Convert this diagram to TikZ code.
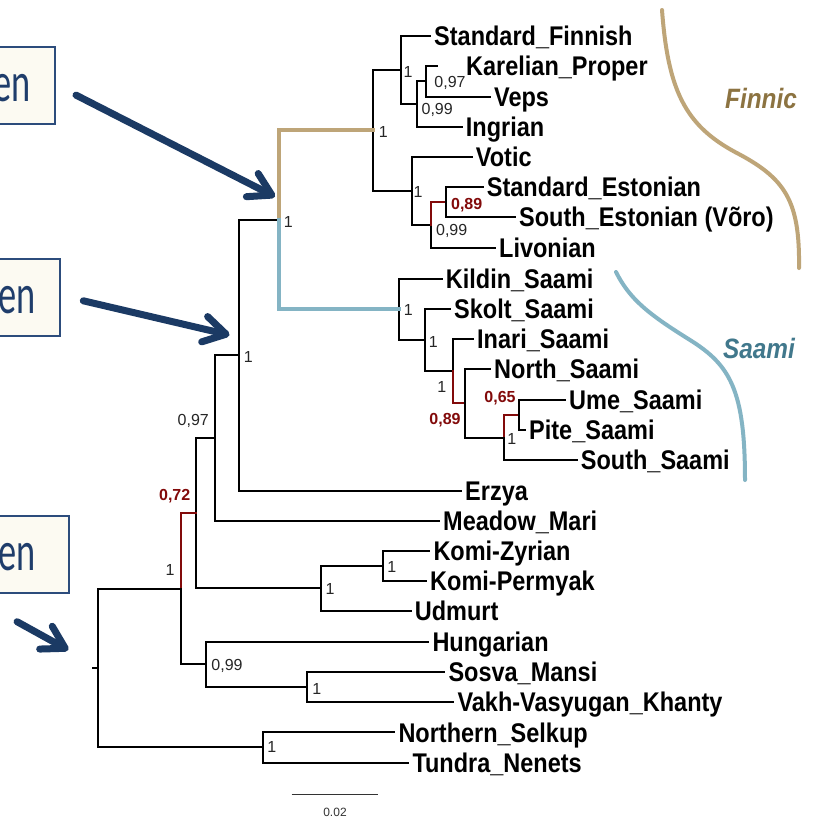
\documentclass[tikz,border=0pt]{standalone}
\usepackage{fontspec}
\usetikzlibrary{arrows.meta}
\newfontfamily\taxfont{Liberation Sans}[FakeStretch=0.87]
\newfontfamily\numfont{Liberation Sans}
\newfontfamily\slidefont{Carlito}[FakeStretch=0.65]
\definecolor{finnictan}{HTML}{BEA578}
\definecolor{finnictext}{HTML}{8C7341}
\definecolor{saamiblue}{HTML}{84B4C4}
\definecolor{saamitext}{HTML}{41788C}
\definecolor{lowred}{HTML}{820A0A}
\definecolor{boxblue}{HTML}{2C4C7C}
\definecolor{boxcream}{HTML}{FCFAF2}
\definecolor{slidetext}{HTML}{1F3D6B}
\definecolor{arrowblue}{HTML}{1B3A64}
\tikzstyle{taxon} = [anchor=west, inner xsep=4pt, inner ysep=0pt, text height=19.5pt, text depth=0pt, font=\taxfont\bfseries\fontsize{27}{27}\selectfont]
\tikzstyle{support} = [inner sep=0pt, text height=11.5pt, text depth=0pt, text=black!85, font=\numfont\fontsize{16}{16}\selectfont]
\tikzstyle{weak} = [support, text=lowred, font=\numfont\bfseries\fontsize{16}{16}\selectfont]
\tikzstyle{cladelabel} = [inner sep=0pt, font=\taxfont\bfseries\itshape\fontsize{28}{28}\selectfont]
\tikzstyle{branch} = [line width=2pt, line cap=rect]
\tikzstyle{weakbranch} = [branch, draw=lowred]
\tikzstyle{finnicbranch} = [line width=4pt, line cap=rect, draw=finnictan]
\tikzstyle{saamibranch} = [line width=4pt, line cap=rect, draw=saamiblue]
\tikzstyle{bracket} = [line width=4pt, line cap=round]
\tikzstyle{slidebox} = [anchor=north east, draw=boxblue, fill=boxcream, line width=2pt, minimum height=77pt, inner xsep=24pt, inner ysep=0pt, text height=32pt, text depth=0pt, text=slidetext, font=\slidefont\fontsize{56}{56}\selectfont]
\tikzstyle{callout} = [line width=7pt, draw=arrowblue, line cap=round, -{Straight Barb[length=22pt, width=26pt, line join=round, line cap=round]}]
\tikzstyle{scalebar} = [line width=1.3pt, draw=black!80]
\begin{document}
\begin{tikzpicture}[x=1pt,y=-1pt]
    \useasboundingbox (0,0) rectangle (813,820);
    \fill[white] (0,0) rectangle (813,820);

    \coordinate (karveps) at (425.7,81.25);
    \coordinate (karvepsing) at (416.7,103.9);
    \coordinate (finnorth) at (400.7,69.9);
    \coordinate (estpair) at (445.7,202);
    \coordinate (estliv) at (431,224.75);
    \coordinate (finsouth) at (411.7,190.9);
    \coordinate (finnic) at (373.3,130.4);
    \coordinate (umepite) at (519,415);
    \coordinate (southgrp) at (504.3,437.5);
    \coordinate (northgrp) at (465,403);
    \coordinate (inarigrp) at (452.7,371);
    \coordinate (skoltgrp) at (425,339.75);
    \coordinate (saami) at (399.3,309.1);
    \coordinate (finsaami) at (278.5,219.75);
    \coordinate (volgfin) at (239.3,355.1);
    \coordinate (volgmari) at (215,437.8);
    \coordinate (komi) at (382.7,565.5);
    \coordinate (permic) at (321,588.25);
    \coordinate (permvolga) at (195.7,513);
    \coordinate (obugric) at (307.3,686.7);
    \coordinate (ugric) at (206,664.1);
    \coordinate (finnougric) at (180.7,588.5);
    \coordinate (samoyed) at (262.7,747.4);
    \coordinate (uralic) at (98.3,668);
    \coordinate (rootstub) at (93.3,668);

    \node[taxon] (finnish) at (430,36) {Standard\_Finnish};
    \node[taxon] (karelian) at (462,66) {Karelian\_Proper};
    \node[taxon] (veps) at (490,96.5) {Veps};
    \node[taxon] (ingrian) at (461.7,126.5) {Ingrian};
    \node[taxon] (votic) at (471.7,157) {Votic};
    \node[taxon] (stdest) at (482.7,187) {Standard\_Estonian};
    \node[taxon] (southest) at (515,217) {South\_Estonian (Võro)};
    \node[taxon] (livonian) at (495,247.5) {Livonian};
    \node[taxon] (kildin) at (441.7,278.5) {Kildin\_Saami};
    \node[taxon] (skolt) at (450,308.5) {Skolt\_Saami};
    \node[taxon] (inari) at (473,339) {Inari\_Saami};
    \node[taxon] (north) at (490,368.5) {North\_Saami};
    \node[taxon] (ume) at (565,400) {Ume\_Saami};
    \node[taxon] (pite) at (525,430) {Pite\_Saami};
    \node[taxon] (southsaami) at (576.7,460) {South\_Saami};
    \node[taxon] (erzya) at (461,490.5) {Erzya};
    \node[taxon] (mari) at (439,520.5) {Meadow\_Mari};
    \node[taxon] (zyrian) at (429.3,550.5) {Komi-Zyrian};
    \node[taxon] (permyak) at (426,580.5) {Komi-Permyak};
    \node[taxon] (udmurt) at (410.7,611) {Udmurt};
    \node[taxon] (hungarian) at (428.3,641.5) {Hungarian};
    \node[taxon] (mansi) at (444.3,671.7) {Sosva\_Mansi};
    \node[taxon] (khanty) at (453.3,701.7) {Vakh-Vasyugan\_Khanty};
    \node[taxon] (selkup) at (394.3,732.3) {Northern\_Selkup};
    \node[taxon] (nenets) at (408.3,762.5) {Tundra\_Nenets};

    \draw[branch] (finnorth) |- (finnish.west) (finnorth) |- (karvepsing);
    \draw[branch] (karvepsing) |- (karveps) (karvepsing) |- (ingrian.west);
    \draw[branch] (karveps) |- ([xshift=-25pt]karelian.west) (karveps) |- (veps.west);
    \draw[branch] (finnic) |- (finnorth) (finnic) |- (finsouth);
    \draw[branch] (finsouth) |- (votic.west) (finsouth) |- (estliv);
    \draw[branch] (estliv) |- (livonian.west);
    \draw[weakbranch] (estliv) |- (estpair);
    \draw[branch] (estpair) |- (stdest.west) (estpair) |- (southest.west);
    \draw[branch] (saami) |- (kildin.west) (saami) |- (skoltgrp);
    \draw[branch] (skoltgrp) |- (skolt.west) (skoltgrp) |- (inarigrp);
    \draw[branch] (inarigrp) |- (inari.west);
    \draw[weakbranch] (inarigrp) |- (northgrp);
    \draw[branch] (northgrp) |- (north.west) (northgrp) |- (southgrp);
    \draw[weakbranch] (southgrp) |- (umepite);
    \draw[branch] (southgrp) |- (southsaami.west);
    \draw[branch] (umepite) |- (ume.west) (umepite) |- (pite.west);
    \draw[branch] (volgfin) |- (finsaami) (volgfin) |- (erzya.west);
    \draw[finnicbranch] (finsaami) |- (finnic);
    \draw[saamibranch] (finsaami) |- (saami);
    \draw[branch] (volgmari) |- (volgfin) (volgmari) |- (mari.west);
    \draw[branch] (permvolga) |- (volgmari) (permvolga) |- (permic);
    \draw[branch] (permic) |- (komi) (permic) |- (udmurt.west);
    \draw[branch] (komi) |- (zyrian.west) (komi) |- (permyak.west);
    \draw[weakbranch] (finnougric) |- (permvolga);
    \draw[branch] (finnougric) |- (ugric);
    \draw[branch] (ugric) |- (hungarian.west) (ugric) |- (obugric);
    \draw[branch] (obugric) |- (mansi.west) (obugric) |- (khanty.west);
    \draw[branch] (uralic) |- (finnougric) (uralic) |- (samoyed) (uralic) -- (rootstub);
    \draw[branch] (samoyed) |- (selkup.west) (samoyed) |- (nenets.west);

    \node[support] at (408,71.7) {1};
    \node[support] at (450,81.7) {0,97};
    \node[support] at (437.2,108.3) {0,99};
    \node[support] at (383.3,131.7) {1};
    \node[support] at (418,191.7) {1};
    \node[weak] at (466.7,203.3) {0,89};
    \node[support] at (451.7,230) {0,99};
    \node[support] at (288.3,221.7) {1};
    \node[support] at (408.3,310) {1};
    \node[support] at (433.3,341.7) {1};
    \node[support] at (441.7,386.7) {1};
    \node[weak] at (445,418.3) {0,89};
    \node[weak] at (500,396.7) {0,65};
    \node[support] at (511.7,438.3) {1};
    \node[support] at (248.3,356.7) {1};
    \node[support] at (193.3,419.3) {0,97};
    \node[weak] at (174.7,495) {0,72};
    \node[support] at (170,570) {1};
    \node[support] at (330,588.3) {1};
    \node[support] at (391.7,566.7) {1};
    \node[support] at (227,665) {0,99};
    \node[support] at (316.7,688.3) {1};
    \node[support] at (271.7,746.7) {1};

    \coordinate (scaleleft) at (291.7,794.3);
    \coordinate (scaleright) at (378.3,794.3);
    \draw[scalebar] (scaleleft) -- node[inner sep=0pt, yshift=-17.4pt, text height=8.6pt, text depth=0pt, text=black!80, font=\numfont\fontsize{12}{12}\selectfont] {0.02} (scaleright);

    \draw[bracket, draw=finnictan] (662,10) .. controls (668,90) and (685,125) .. (735,152) .. controls (785,178) and (800,200) .. (799,268);
    \draw[bracket, draw=saamiblue] (616,272) .. controls (630,300) and (650,315) .. (690,340) .. controls (730,365) and (745,390) .. (745,480);
    \node[cladelabel, text=finnictext] (finniclabel) at (761,98) {Finnic};
    \node[cladelabel, text=saamitext] (saamilabel) at (759,348) {Saami};

    \node[slidebox] (boxfinsaami) at (56,46) {en};
    \node[slidebox, inner xsep=24.3pt] (boxvolga) at (61,258.3) {en};
    \node[slidebox, inner xsep=33.3pt] (boxuralic) at (70,514.7) {en};
    \coordinate (pointfinsaami) at (275,196.7);
    \coordinate (pointvolgfin) at (229.5,335);
    \coordinate (pointuralic) at (68.3,650);
    \draw[callout] ([shift={(20,9.6)}]boxfinsaami.east) -- (pointfinsaami);
    \draw[callout] ([shift={(22.3,3)}]boxvolga.east) -- (pointvolgfin);
    \draw[callout] ([yshift=-28pt]boxuralic.south) -- (pointuralic);
\end{tikzpicture}
\end{document}
